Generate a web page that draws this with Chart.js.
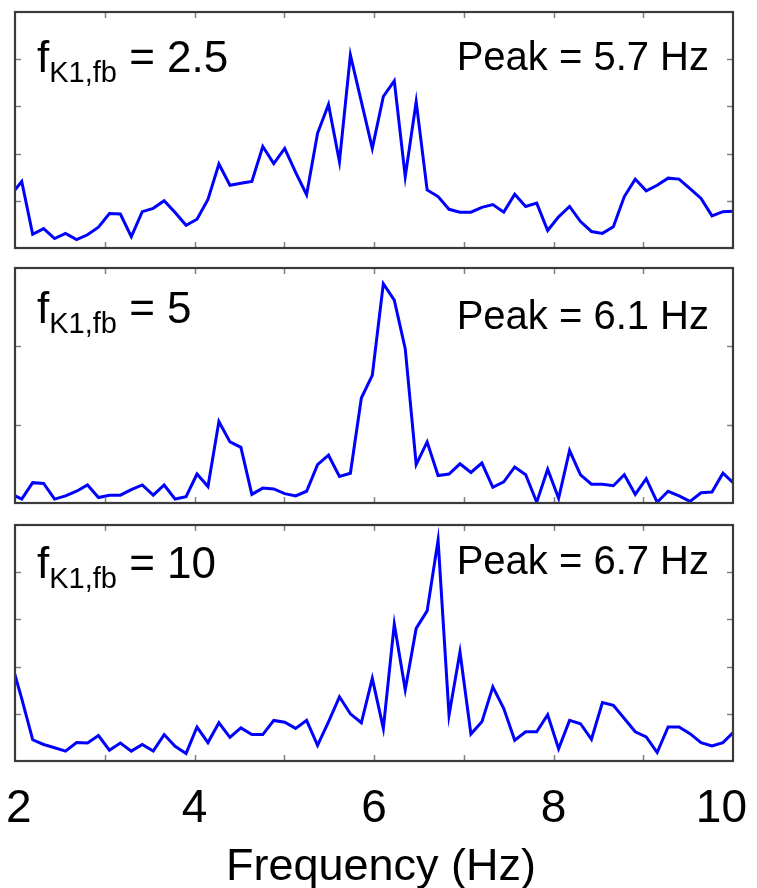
<!DOCTYPE html>
<html>
<head>
<meta charset="utf-8">
<script src="https://cdn.jsdelivr.net/npm/chart.js@4.4.1/dist/chart.umd.min.js"></script>
<style>
  html, body { margin: 0; padding: 0; background: #fff; }
  #wrap { position: relative; width: 757px; height: 888px; overflow: hidden; font-family: "Liberation Sans", Arial, sans-serif; }
  canvas { position: absolute; left: 0; }
  .lbl { position: absolute; color: #000; white-space: nowrap; }
  .lbl.fb { font-size: 44px; line-height: 44px; }
  .lbl.pk { font-size: 40px; line-height: 40px; }
  .lbl .sub { font-size: 29px; position: relative; top: 10px; }
</style>
</head>
<body>
<div id="wrap">
  <canvas id="panel1" width="757" height="255" style="top:0"></canvas>
  <canvas id="panel2" width="757" height="255" style="top:255px"></canvas>
  <canvas id="panel3" width="757" height="378" style="top:510px"></canvas>

  <div class="lbl fb" style="left:37px; top:35px">f<span class="sub">K1,fb</span> = 2.5</div>
  <div class="lbl pk" style="right:48px; top:36px">Peak = 5.7 Hz</div>
  <div class="lbl fb" style="left:37px; top:286px">f<span class="sub">K1,fb</span> = 5</div>
  <div class="lbl pk" style="right:48px; top:295px">Peak = 6.1 Hz</div>
  <div class="lbl fb" style="left:37px; top:541px">f<span class="sub">K1,fb</span> = 10</div>
  <div class="lbl pk" style="right:48px; top:540px">Peak = 6.7 Hz</div>
</div>

<script>
// frequency bins (Hz)
const freqHz = [1.953, 2.075, 2.197, 2.319, 2.441, 2.563, 2.686, 2.808, 2.930, 3.052,
  3.174, 3.296, 3.418, 3.540, 3.662, 3.784, 3.906, 4.028, 4.150, 4.272,
  4.395, 4.517, 4.639, 4.761, 4.883, 5.005, 5.127, 5.249, 5.371, 5.493,
  5.615, 5.737, 5.859, 5.981, 6.104, 6.226, 6.348, 6.470, 6.592, 6.714,
  6.836, 6.958, 7.080, 7.202, 7.324, 7.446, 7.568, 7.690, 7.813, 7.935,
  8.057, 8.179, 8.301, 8.423, 8.545, 8.667, 8.789, 8.911, 9.033, 9.155,
  9.277, 9.399, 9.521, 9.644, 9.766, 9.888, 10.010];

// spectrum, f_K1,fb = 2.5
const powerFb25 = [1.12, 1.41, 0.29, 0.41, 0.20, 0.31, 0.18, 0.28, 0.44, 0.73,
  0.72, 0.24, 0.77, 0.84, 1.00, 0.75, 0.48, 0.61, 1.03, 1.78,
  1.33, 1.37, 1.41, 2.15, 1.79, 2.11, 1.60, 1.13, 2.43, 3.04,
  1.83, 4.09, 3.10, 2.11, 3.21, 3.54, 1.51, 3.10, 1.23, 1.09,
  0.82, 0.76, 0.76, 0.86, 0.92, 0.76, 1.14, 0.88, 0.95, 0.37,
  0.66, 0.88, 0.56, 0.35, 0.31, 0.45, 1.09, 1.46, 1.21, 1.33,
  1.48, 1.46, 1.26, 1.05, 0.68, 0.77, 0.78];

// spectrum, f_K1,fb = 5
const powerFb5 = [0.12, 0.05, 0.26, 0.25, 0.05, 0.09, 0.15, 0.23, 0.07, 0.10,
  0.10, 0.17, 0.23, 0.10, 0.23, 0.05, 0.08, 0.37, 0.21, 1.04,
  0.78, 0.71, 0.11, 0.19, 0.18, 0.12, 0.09, 0.15, 0.49, 0.61,
  0.34, 0.38, 1.34, 1.63, 2.80, 2.59, 1.97, 0.49, 0.78, 0.35,
  0.37, 0.50, 0.39, 0.51, 0.20, 0.27, 0.46, 0.36, 0.01, 0.43,
  0.06, 0.67, 0.36, 0.24, 0.24, 0.22, 0.36, 0.11, 0.31, 0.01,
  0.15, 0.09, 0.02, 0.13, 0.14, 0.38, 0.25];

// spectrum, f_K1,fb = 10
const powerFb10 = [2.14, 1.32, 0.45, 0.35, 0.28, 0.21, 0.39, 0.38, 0.54, 0.23,
  0.38, 0.21, 0.35, 0.21, 0.56, 0.31, 0.16, 0.72, 0.39, 0.81,
  0.50, 0.70, 0.56, 0.56, 0.86, 0.82, 0.69, 0.86, 0.33, 0.83,
  1.36, 1.00, 0.81, 1.75, 0.69, 2.90, 1.51, 2.81, 3.18, 4.68,
  0.97, 2.31, 0.57, 0.83, 1.57, 1.11, 0.44, 0.62, 0.62, 0.98,
  0.26, 0.86, 0.79, 0.46, 1.24, 1.18, 0.90, 0.62, 0.51, 0.18,
  0.72, 0.72, 0.58, 0.39, 0.32, 0.39, 0.62];

const xTickLabels = ['2', '4', '6', '8', '10'];
const xAxisTitle = 'Frequency (Hz)';

// box + inward ticks on all four sides
const frame = {
  id: 'frame',
  afterDatasetsDraw(chart) {
    const { ctx, chartArea: a, scales: { x, y } } = chart;
    const len = 6;
    ctx.save();
    ctx.strokeStyle = '#808080';
    ctx.lineWidth = 1.5;
    ctx.beginPath();
    x.ticks.forEach(t => {
      if (t.value <= x.min || t.value >= x.max) return;
      const px = Math.round(x.getPixelForValue(t.value)) + 0.5;
      ctx.moveTo(px, a.top); ctx.lineTo(px, a.top + len);
      ctx.moveTo(px, a.bottom); ctx.lineTo(px, a.bottom - len);
    });
    y.ticks.forEach(t => {
      if (t.value <= y.min || t.value >= y.max) return;
      const py = Math.round(y.getPixelForValue(t.value)) + 0.5;
      ctx.moveTo(a.left, py); ctx.lineTo(a.left + len, py);
      ctx.moveTo(a.right, py); ctx.lineTo(a.right - len, py);
    });
    ctx.stroke();
    ctx.strokeStyle = '#3a3a3a';
    ctx.lineWidth = 2.2;
    ctx.strokeRect(a.left, a.top, a.width, a.height);
    ctx.restore();
  }
};

// x tick labels and title under the bottom panel
const bottomAxis = {
  id: 'bottomAxis',
  afterDraw(chart) {
    const { ctx, chartArea: a, scales: { x } } = chart;
    const W = chart.width;
    ctx.save();
    ctx.fillStyle = '#000';
    ctx.textBaseline = 'alphabetic';
    ctx.textAlign = 'center';
    ctx.font = '46px "Liberation Sans", Arial, sans-serif';
    xTickLabels.forEach(lab => {
      const w = ctx.measureText(lab).width;
      let px = x.getPixelForValue(Number(lab));
      px = Math.max(px, 6 + w / 2);
      px = Math.min(px, W - 10 - w / 2);
      ctx.fillText(lab, px, a.bottom + 61);
    });
    ctx.font = '45px "Liberation Sans", Arial, sans-serif';
    ctx.fillText(xAxisTitle, (a.left + a.right) / 2 + 7, a.bottom + 119);
    ctx.restore();
  }
};

function makePanel(id, values, yMax, padding, extraPlugins) {
  return new Chart(document.getElementById(id), {
    type: 'line',
    data: {
      datasets: [{
        data: freqHz.map((f, i) => ({ x: f, y: values[i] })),
        borderColor: '#0000ff',
        borderWidth: 3,
        pointRadius: 0,
        tension: 0,
        fill: false
      }]
    },
    options: {
      responsive: false,
      animation: false,
      layout: { padding: padding },
      plugins: { legend: { display: false }, tooltip: { enabled: false } },
      scales: {
        x: { type: 'linear', display: false, min: 2, max: 10, ticks: { stepSize: 1 } },
        y: { display: false, min: 0, max: yMax, ticks: { stepSize: 1 } }
      }
    },
    plugins: [frame].concat(extraPlugins || [])
  });
}

makePanel('panel1', powerFb25, 5, { left: 15, right: 24, top: 12, bottom: 7 });
makePanel('panel2', powerFb5, 3, { left: 15, right: 24, top: 13, bottom: 7 });
makePanel('panel3', powerFb10, 5, { left: 15, right: 24, top: 15, bottom: 127 }, [bottomAxis]);
</script>
</body>
</html>
